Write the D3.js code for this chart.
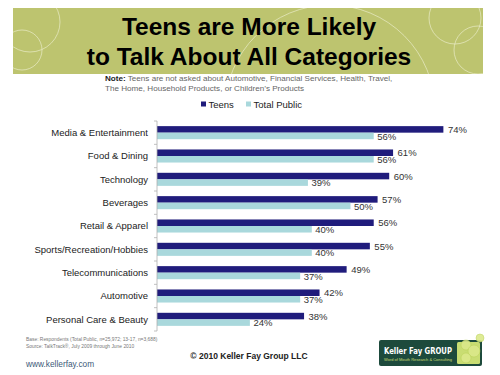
<!DOCTYPE html>
<html>
<head>
<meta charset="utf-8">
<script src="https://cdn.jsdelivr.net/npm/d3@7"></script>
<style>
  body { margin: 0; background: #fff; }
  svg { display: block; font-family: "Liberation Sans", Arial, sans-serif; }
</style>
</head>
<body>
<div id="wrapper"></div>
<script>
const categories = ["Media & Entertainment", "Food & Dining", "Technology", "Beverages",
    "Retail & Apparel", "Sports/Recreation/Hobbies", "Telecommunications", "Automotive",
    "Personal Care & Beauty"];
const teens = [74, 61, 60, 57, 56, 55, 49, 42, 38];
const totalPublic = [56, 56, 39, 50, 40, 40, 37, 37, 24];
const seriesNames = ["Teens", "Total Public"];
const seriesColors = ["#201c7c", "#a9d8dc"];

function buildPlot() {
    const dimension = {
        width: 500,
        height: 375,
        margin: { top: 121, left: 157, bottom: 44, right: 0 }
    };

    const svg = d3.select("#wrapper").append("svg")
        .attr("width", dimension.width)
        .attr("height", dimension.height);

    // banner
    const banner = svg.append("g");
    banner.append("clipPath").attr("id", "bannerClip")
        .append("rect").attr("x", 13).attr("y", 8).attr("width", 470).attr("height", 66);
    banner.append("rect")
        .attr("x", 13).attr("y", 8).attr("width", 470).attr("height", 66)
        .attr("fill", "#bdc46f");
    const rings = [[30, 22, 30], [22, 50, 20], [455, 18, 26], [478, 50, 24], [330, 110, 105]];
    banner.append("g").attr("clip-path", "url(#bannerClip)")
        .selectAll("circle").data(rings).enter().append("circle")
        .attr("cx", d => d[0]).attr("cy", d => d[1]).attr("r", d => d[2])
        .attr("fill", "none").attr("stroke", "#eef0d0").attr("stroke-width", 0.8).attr("opacity", 0.8);

    svg.append("text").attr("x", 249).attr("y", 35).attr("text-anchor", "middle")
        .attr("font-size", "24.5px").attr("font-weight", "bold").attr("fill", "#000")
        .text("Teens are More Likely");
    svg.append("text").attr("x", 249).attr("y", 64.5).attr("text-anchor", "middle")
        .attr("font-size", "24.5px").attr("font-weight", "bold").attr("fill", "#000")
        .text("to Talk About All Categories");

    // note
    const note = svg.append("text").attr("x", 105).attr("y", 81)
        .attr("font-size", "8.1px").attr("fill", "#666");
    note.append("tspan").attr("font-weight", "bold").attr("fill", "#222").text("Note:");
    note.append("tspan").text(" Teens are not asked about Automotive, Financial Services, Health, Travel,");
    svg.append("text").attr("x", 105).attr("y", 90.5)
        .attr("font-size", "8.1px").attr("fill", "#666")
        .text("The Home, Household Products, or Children\u2019s Products");

    // legend
    const legend = svg.append("g").selectAll("g").data(seriesNames).enter().append("g")
        .attr("transform", (d, i) => `translate(${i === 0 ? 201 : 246},0)`);
    legend.append("rect").attr("x", 0).attr("y", 101.5).attr("width", 5).attr("height", 5)
        .attr("fill", (d, i) => seriesColors[i]);
    legend.append("text").attr("x", 7.5).attr("y", 107.5)
        .attr("font-size", "9.5px").attr("fill", "#222").text(d => d);

    // scales
    const xScaler = d3.scaleLinear()
        .domain([0, 100])
        .range([dimension.margin.left, dimension.margin.left + 387]);

    const yScaler = d3.scaleBand()
        .domain(categories)
        .range([dimension.margin.top, dimension.height - dimension.margin.bottom])
        .paddingInner(0.44)
        .paddingOuter(0.22);

    const subScaler = d3.scaleBand()
        .domain([0, 1])
        .range([0, yScaler.bandwidth()]);

    const rows = categories.map((c, i) => ({ cat: c, vals: [teens[i], totalPublic[i]] }));

    const rowGroups = svg.append("g").selectAll("g")
        .data(rows).enter().append("g")
        .attr("transform", d => `translate(0,${yScaler(d.cat)})`);

    rowGroups.selectAll("rect")
        .data(d => d.vals).enter().append("rect")
        .attr("x", xScaler(0))
        .attr("y", (d, i) => subScaler(i))
        .attr("width", d => xScaler(d) - xScaler(0))
        .attr("height", subScaler.bandwidth())
        .attr("fill", (d, i) => seriesColors[i]);

    rowGroups.selectAll("text.val")
        .data(d => d.vals).enter().append("text")
        .attr("class", "val")
        .attr("x", (d, i) => xScaler(d) + (i === 0 ? 4.5 : 3.5))
        .attr("y", (d, i) => subScaler(i) + subScaler.bandwidth() / 2 + 3.6)
        .attr("font-size", "9.5px").attr("fill", "#333")
        .text(d => d + "%");

    // category axis
    const step = yScaler.step();
    const y0 = yScaler.range()[0];
    const axis = svg.append("g").attr("stroke", "#b0b0b0").attr("stroke-width", 0.8);
    axis.append("line")
        .attr("x1", xScaler(0)).attr("x2", xScaler(0))
        .attr("y1", y0).attr("y2", yScaler.range()[1]);
    axis.selectAll("line.tick").data(d3.range(categories.length + 1)).enter().append("line")
        .attr("class", "tick")
        .attr("x1", xScaler(0) - 3).attr("x2", xScaler(0))
        .attr("y1", d => y0 + d * step).attr("y2", d => y0 + d * step);

    svg.append("g").selectAll("text").data(categories).enter().append("text")
        .attr("x", xScaler(0) - 9)
        .attr("y", d => yScaler(d) + yScaler.bandwidth() / 2 + 3.4)
        .attr("text-anchor", "end")
        .attr("font-size", "9.5px").attr("fill", "#222")
        .text(d => d);

    // footer
    svg.append("text").attr("x", 26).attr("y", 341).attr("font-size", "4.9px").attr("fill", "#777")
        .text("Base: Respondents (Total Public, n=25,972; 13-17, n=3,688)");
    svg.append("text").attr("x", 26).attr("y", 347.5).attr("font-size", "4.9px").attr("fill", "#777")
        .text("Source: TalkTrack\u00ae, July 2009 through June 2010");
    svg.append("text").attr("x", 26).attr("y", 366.5).attr("font-size", "8.3px").attr("fill", "#3c5a78")
        .text("www.kellerfay.com");
    svg.append("text").attr("x", 249).attr("y", 359).attr("text-anchor", "middle")
        .attr("font-size", "8.5px").attr("font-weight", "bold").attr("fill", "#222")
        .text("\u00a9 2010 Keller Fay Group LLC");

    // logo
    const logo = svg.append("g");
    logo.append("rect").attr("x", 379).attr("y", 340).attr("width", 103).attr("height", 26).attr("rx", 2)
        .attr("fill", "#1d4a3c");
    logo.append("rect").attr("x", 457).attr("y", 342).attr("width", 23).attr("height", 22).attr("rx", 1.5)
        .attr("fill", "#c9dd72");
    [[466, 345, 5], [474, 351, 6], [466, 358, 5], [480, 338, 4]].forEach(c => {
        logo.append("circle").attr("cx", c[0]).attr("cy", c[1]).attr("r", c[2])
            .attr("fill", "#dbe98a").attr("stroke", "#b7cf55").attr("stroke-width", 0.5).attr("opacity", 0.9);
    });
    logo.append("text").attr("x", 384).attr("y", 353.5).attr("font-weight", "bold")
        .attr("fill", "#fff").attr("font-size", "9.5px")
        .attr("font-family", "'Liberation Sans Narrow', 'DejaVu Sans Condensed', sans-serif")
        .attr("textLength", 68).attr("lengthAdjust", "spacingAndGlyphs")
        .text("Keller Fay GROUP");
    logo.append("text").attr("x", 384).attr("y", 361).attr("font-size", "3.4px")
        .attr("fill", "#c9dd72").attr("textLength", 68).attr("lengthAdjust", "spacingAndGlyphs")
        .text("Word of Mouth Research & Consulting");
}

buildPlot();
</script>
</body>
</html>
